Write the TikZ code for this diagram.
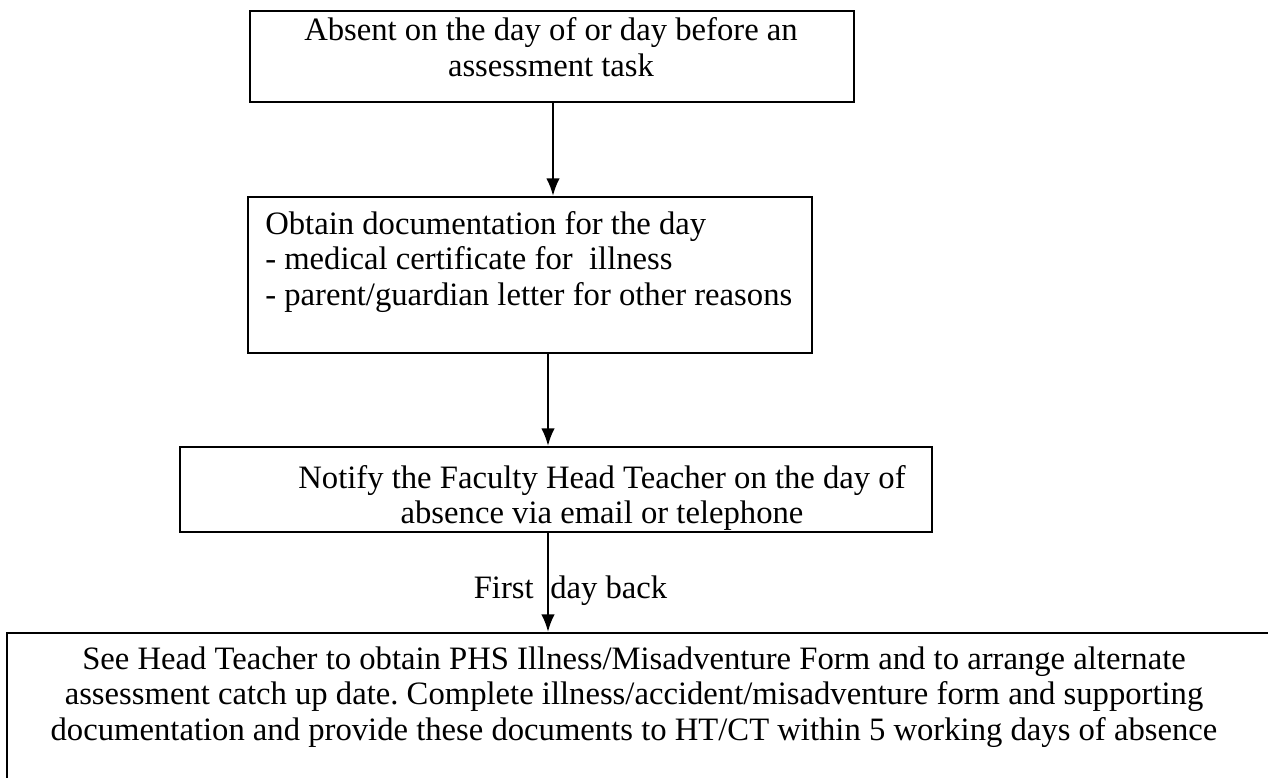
\documentclass[tikz,border=0pt]{standalone}
\usepackage{fontspec}
\setmainfont{Liberation Serif}
\usetikzlibrary{arrows.meta,fit,positioning}
\tikzset{
    box/.style={
           draw, line width=1.8pt,
           inner sep=0pt,
           },
    txt/.style={
           font=\fontsize{24.5}{26.5}\selectfont,
           align=center, inner sep=0pt,
           },
    flow/.style={-{Latex[length=13pt,width=10pt]}, line width=1.4pt},
}
\frenchspacing

\begin{document}
\begin{tikzpicture}[x=0.75pt,y=-0.75pt]
\clip (0,0) rectangle (1268,778);
% boxes
\node[box, fit={(250,11) (854,102)}] (absent) {};
\node[box, fit={(248,197) (812,353)}] (obtain) {};
\node[box, fit={(180,447) (932,532)}] (notify) {};
\node[box, fit={(7,633) (1300,800)}] (see) {};
% texts
\node[txt] (absenttxt) at (551,47) {Absent on the day of or day before an\\assessment task};
\node[txt, align=left, anchor=west] (obtaintxt) at (265,262) {Obtain documentation for the day\\- medical certificate for\ \ illness\\- parent/guardian letter for other reasons};
\node[txt] (notifytxt) at (602,498) {Notify the Faculty Head Teacher on the day of\\absence via email or telephone};
\node[txt] (seetxt) at (634,697) {See Head Teacher to obtain PHS Illness/Misadventure Form and to arrange alternate\\assessment catch up date. Complete illness/accident/misadventure form and supporting\\documentation and provide these documents to HT/CT within 5 working days of absence};
% arrows
\draw[flow] (553,0 |- absent.south) -- (553,0 |- obtain.north);
\draw[flow] (548,0 |- obtain.south) -- (548,0 |- notify.north);
\draw[flow] (548,0 |- notify.south) -- (548,0 |- see.north);
\node[txt, anchor=base east] (firsttxt) at (534,598) {First};
\node[txt, anchor=base west] (backtxt) at (550,598) {day back};
\end{tikzpicture}
\end{document}
